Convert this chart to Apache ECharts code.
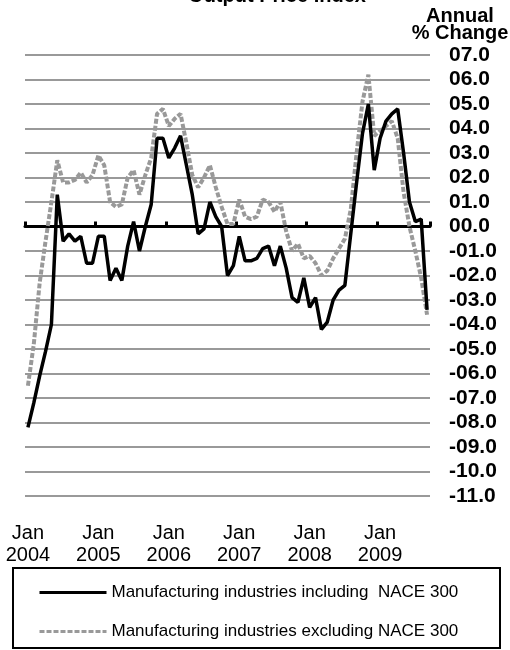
<!DOCTYPE html>
<html>
<head>
<meta charset="utf-8">
<script src="https://cdn.jsdelivr.net/npm/echarts@6/dist/echarts.min.js"></script>
<style>
  html, body { margin: 0; padding: 0; background: #fff; }
  #chart { width: 510px; height: 650px; }
</style>
</head>
<body>
<div id="chart"></div>
<script>
// monthly, Jan 2004 .. Sep 2009
const years = [2004, 2005, 2006, 2007, 2008, 2009]
const monthNames = ['Jan', 'Feb', 'Mar', 'Apr', 'May', 'Jun', 'Jul', 'Aug', 'Sep', 'Oct', 'Nov', 'Dec']
const lastYearMonths = 9

const inclNace = [
  -8.2, -7.2, -6.1, -5.1, -4.0, 1.3, -0.6, -0.3, -0.6, -0.4, -1.5, -1.5,
  -0.4, -0.4, -2.2, -1.7, -2.2, -0.8, 0.2, -1.0, 0.0, 0.9, 3.6, 3.6,
  2.8, 3.2, 3.7, 2.5, 1.3, -0.3, -0.1, 1.0, 0.4, 0.0, -2.0, -1.6,
  -0.4, -1.4, -1.4, -1.3, -0.9, -0.8, -1.6, -0.8, -1.7, -2.9, -3.1, -2.1,
  -3.3, -2.9, -4.2, -3.9, -3.0, -2.6, -2.4, -0.3, 1.8, 3.8, 5.0, 2.3,
  3.6, 4.3, 4.6, 4.8, 3.0, 1.0, 0.2, 0.3, -3.4
]
const exclNace = [
  -6.5, -4.8, -2.3, -0.6, 1.0, 2.7, 1.8, 1.8, 1.9, 2.2, 1.8, 2.1,
  2.9, 2.5, 1.0, 0.8, 0.9, 2.0, 2.3, 1.3, 2.1, 2.8, 4.6, 4.8,
  4.1, 4.4, 4.6, 3.4, 2.1, 1.6, 2.0, 2.5, 1.6, 0.8, 0.1, 0.1,
  1.1, 0.4, 0.3, 0.4, 1.1, 1.0, 0.6, 1.0, -0.2, -1.0, -0.7, -1.3,
  -1.2, -1.5, -2.0, -1.8, -1.3, -0.9, -0.5, 0.7, 3.0, 5.1, 6.2, 3.7,
  3.9, 4.1, 4.3, 3.6, 1.4, 0.0, -1.0, -2.1, -3.6
]
const seriesNames = [
  'Manufacturing industries including  NACE 300',
  'Manufacturing industries excluding NACE 300'
]
const yMin = -11
const yMax = 7

const categories = []
years.forEach((y, i) => {
  const n = i === years.length - 1 ? lastYearMonths : 12
  for (let m = 0; m < n; m++) categories.push(monthNames[m] + ' ' + y)
})

const FONT = 'Arial, "Liberation Sans", sans-serif'

// 07.0, 00.0, -01.0, -11.0
const fmtPct = (v) => {
  const a = Math.abs(v).toFixed(1)
  return (v < 0 ? '-' : '') + (a.length < 4 ? '0' + a : a)
}

const chart = echarts.init(document.getElementById('chart'))
chart.setOption({
  animation: false,
  backgroundColor: '#fff',
  title: [
    {
      // cut off at the top, as in the source
      text: 'Output Price Index',
      left: 277,
      top: -14,
      padding: 0,
      textAlign: 'center',
      textStyle: { fontFamily: FONT, fontSize: 20, fontWeight: 'bold', color: '#000' }
    },
    {
      text: 'Annual\n% Change',
      left: 460,
      top: 8,
      padding: 0,
      textAlign: 'center',
      textStyle: { fontFamily: FONT, fontSize: 20, fontWeight: 'bold', color: '#000', lineHeight: 17 }
    }
  ],
  grid: { left: 25, right: 80, top: 55, bottom: 154, containLabel: false },
  legend: {
    orient: 'vertical',
    left: 38,
    top: 584,
    padding: 0,
    itemWidth: 67,
    itemHeight: 14,
    itemGap: 22,
    itemStyle: { opacity: 0 },
    lineStyle: { width: 3 },
    textStyle: { fontFamily: FONT, fontSize: 17, color: '#000' },
    data: seriesNames
  },
  xAxis: [
    {
      // zero line with year ticks
      type: 'category',
      position: 'top',
      data: categories,
      boundaryGap: true,
      axisLine: { onZero: true, lineStyle: { color: '#000', width: 3 } },
      axisTick: {
        show: true,
        inside: false,
        length: 5,
        interval: (i) => i % 12 === 0,
        lineStyle: { color: '#000', width: 3 }
      },
      axisLabel: { show: false },
      splitLine: { show: false }
    },
    {
      type: 'category',
      position: 'bottom',
      data: categories,
      boundaryGap: true,
      axisLine: { show: false, onZero: false },
      axisTick: { show: false },
      axisLabel: {
        interval: (i) => i % 12 === 0,
        formatter: (v) => v.replace(' ', '\n'),
        margin: 26,
        fontFamily: FONT,
        fontSize: 20,
        lineHeight: 22,
        color: '#000'
      },
      splitLine: { show: false }
    }
  ],
  yAxis: {
    type: 'value',
    position: 'right',
    min: yMin,
    max: yMax,
    interval: 1,
    axisLine: { show: false },
    axisTick: { show: false },
    axisLabel: {
      margin: 19,
      formatter: fmtPct,
      fontFamily: FONT,
      fontSize: 21,
      fontWeight: 'bold',
      color: '#000'
    },
    splitLine: { lineStyle: { color: '#999', width: 2 } }
  },
  series: [
    {
      name: seriesNames[0],
      type: 'line',
      data: inclNace,
      symbol: 'none',
      color: '#000',
      lineStyle: { color: '#000', width: 3.5 },
      z: 3
    },
    {
      name: seriesNames[1],
      type: 'line',
      data: exclNace,
      symbol: 'none',
      color: '#999',
      lineStyle: { color: '#999', width: 4, type: [5, 2] },
      z: 2
    }
  ],
  graphic: [
    {
      type: 'rect',
      shape: { x: 13, y: 568, width: 487, height: 80 },
      style: { fill: 'none', stroke: '#000', lineWidth: 2 }
    }
  ]
})
</script>
</body>
</html>
